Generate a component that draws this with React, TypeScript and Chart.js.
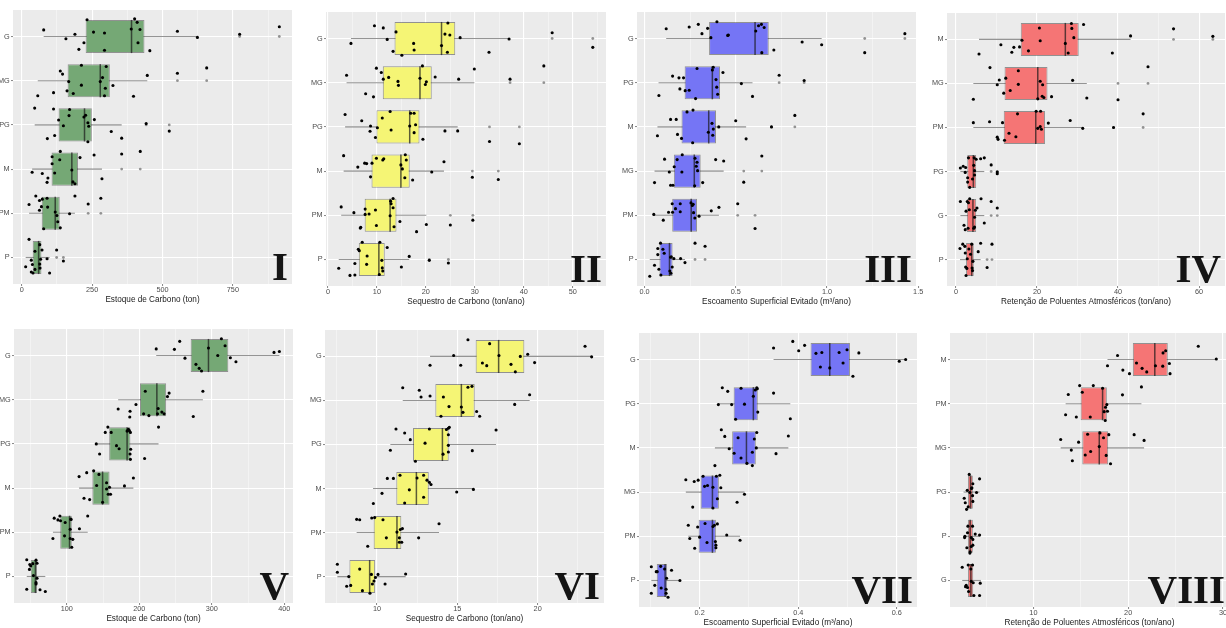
import React, { useEffect, useRef } from 'react';
import { Chart, registerables } from 'chart.js';

Chart.register(...registerables);
Chart.defaults.font.family = "'Liberation Sans', Arial, sans-serif";

// ---------------- DATA ----------------
// Panel I – Estoque de Carbono (ton)
const catsI = ['G', 'MG', 'PG', 'M', 'PM', 'P'];
const q1I = [227, 163, 131, 106, 71, 39];
const medI = [390, 279, 223, 178, 119, 60];
const q3I = [436, 313, 249, 200, 135, 70];
const loI = [78, 57, 46, 37, 26, 14];
const hiI = [624, 446, 355, 285, 189, 99];
const outI = [[774, 915], [553, 657], [442, 524], [355, 421], [236, 281], [124, 148]];
const ptsI = [
  [[78,-.15],[157,.05],[189,-.05],[203,.29],[221,.14],[232,-.38],[255,-.10],[294,-.08],[294,.31],[389,-.17],[401,-.40],[410,-.32],[413,.14],[420,-.16],[455,.32],[553,-.12],[624,.02],[774,-.05],[915,-.22]],
  [[137,-.22],[145,-.15],[167,.02],[212,-.35],[212,.10],[161,.23],[183,.29],[113,.27],[57,.34],[279,.02],[287,-.07],[300,-.32],[297,.17],[294,.34],[324,.11],[397,.35],[446,-.12],[553,-.17],[657,-.29]],
  [[46,-.38],[113,-.36],[170,-.35],[168,-.21],[131,-.11],[148,.02],[91,.31],[117,.24],[221,-.18],[227,-.22],[235,-.05],[238,.03],[235,.38],[258,-.12],[318,.15],[355,.30],[442,-.03],[524,.14]],
  [[137,-.40],[135,-.21],[108,-.28],[108,-.12],[117,.09],[73,.10],[37,.07],[93,.20],[90,.30],[178,.02],[182,.29],[189,.33],[207,-.26],[257,-.32],[285,.22],[355,-.34],[421,-.40]],
  [[50,-.39],[26,-.20],[63,-.29],[73,-.32],[90,-.34],[70,-.15],[63,-.07],[92,-.14],[78,.35],[119,-.03],[125,.05],[128,.19],[137,.33],[170,.01],[189,-.39],[236,-.21],[281,-.34]],
  [[26,-.41],[47,-.14],[64,-.29],[72,-.17],[34,.06],[38,.16],[14,.21],[34,.33],[40,.35],[47,.27],[64,.15],[65,.24],[67,.04],[99,.35],[124,-.17],[148,.08],[90,.03]],
];

// Panel II – Sequestro de Carbono (ton/ano)
const catsII = ['G', 'MG', 'PG', 'M', 'PM', 'P'];
const q1II = [13.6, 11.2, 9.9, 8.9, 7.5, 6.3];
const medII = [23.2, 18.8, 16.7, 14.9, 12.7, 10.4];
const q3II = [26.0, 21.2, 18.7, 16.7, 14.0, 11.6];
const loII = [4.7, 3.8, 3.5, 3.2, 2.7, 2.2];
const hiII = [37.0, 29.9, 26.5, 23.7, 20.1, 16.6];
const outII = [[45.8, 54.1], [37.2, 44.1], [33.0, 39.1], [29.5, 34.8], [25.0, 29.6], [20.7, 24.6]];
const ptsII = [
  [[9.5,-.29],[11.3,-.24],[12.1,.02],[13.9,-.15],[13.3,.29],[15.1,.38],[4.7,.11],[17.5,.11],[17.6,.26],[23.2,.16],[23.9,-.10],[24.5,-.35],[24.9,-.08],[24.4,.31],[27.0,-.02],[37.0,.01],[32.9,.31],[45.8,-.13],[54.1,.20]],
  [[3.8,-.17],[9.9,-.33],[10.9,-.23],[11.3,-.08],[12.4,-.12],[7.7,.25],[9.3,.32],[14.3,-.03],[14.4,.06],[19.3,-.38],[18.8,-.10],[19.9,.04],[20.1,-.02],[21.9,-.13],[26.7,-.08],[29.9,-.31],[37.2,-.08],[44.1,-.38]],
  [[3.5,-.28],[6.9,-.14],[8.7,-.02],[8.6,.10],[9.7,.24],[10.1,.02],[11.1,-.20],[12.7,-.35],[12.9,.07],[16.7,-.02],[16.9,-.31],[17.6,-.31],[17.9,-.05],[17.6,.13],[19.4,.28],[23.9,.09],[26.5,.09],[33.0,.33],[39.1,.38]],
  [[3.2,-.35],[6.1,-.09],[7.5,-.18],[7.9,-.17],[8.7,.13],[9.0,-.18],[9.9,-.29],[11.2,-.25],[11.4,-.28],[14.9,-.14],[15.8,-.37],[16.0,-.25],[15.2,-.05],[15.7,.15],[17.3,.20],[23.7,-.21],[21.2,.02],[29.5,.14],[34.8,.19]],
  [[2.7,-.19],[5.3,-.06],[7.6,-.14],[8.4,-.03],[9.7,-.12],[7.6,-.02],[6.7,.27],[6.6,.29],[9.9,.23],[12.8,-.32],[12.9,-.26],[13.3,-.38],[13.3,-.17],[12.7,.01],[13.5,.26],[14.7,.14],[18.1,.37],[20.1,.21],[25.0,.22],[29.6,.11]],
  [[2.2,.20],[4.5,.36],[5.5,.09],[5.5,.35],[6.2,-.23],[6.4,-.20],[7.0,-.39],[8.0,-.08],[7.9,.11],[10.6,-.39],[10.5,.34],[11.0,.02],[11.1,.19],[11.2,.26],[12.1,-.27],[15.0,.17],[16.6,-.07],[20.7,.02],[24.6,.08]],
];

// Panel III – Escoamento Superficial Evitado (m³/ano)
const catsIII = ['G', 'PG', 'M', 'MG', 'PM', 'P'];
const q1III = [0.354, 0.220, 0.203, 0.161, 0.152, 0.082];
const medIII = [0.606, 0.372, 0.352, 0.273, 0.256, 0.137];
const q3III = [0.681, 0.414, 0.392, 0.308, 0.288, 0.154];
const loIII = [0.119, 0.077, 0.071, 0.055, 0.049, 0.029];
const hiIII = [0.971, 0.592, 0.557, 0.434, 0.408, 0.222];
const outIII = [[1.207, 1.427], [0.738, 0.875], [0.696, 0.824], [0.544, 0.643], [0.511, 0.606], [0.277, 0.332]];
const ptsIII = [
  [[.119,-.22],[.245,-.26],[.295,-.32],[.315,-.11],[.346,-.23],[.364,-.02],[.397,-.38],[.456,-.07],[.460,-.08],[.610,-.17],[.625,-.29],[.641,-.32],[.656,-.25],[.643,.32],[.709,.26],[.864,.08],[.971,.14],[1.207,.32],[1.427,-.11]],
  [[.154,-.15],[.189,-.11],[.214,-.11],[.194,.14],[.223,.18],[.245,.17],[.079,.29],[.280,.36],[.288,-.32],[.372,-.29],[.377,-.35],[.392,-.07],[.396,.10],[.401,.26],[.430,-.23],[.531,.02],[.592,.31],[.738,-.17],[.875,-.05]],
  [[.143,-.17],[.174,-.17],[.233,-.34],[.266,-.38],[.181,.17],[.203,.26],[.071,.20],[.264,.36],[.350,.12],[.370,-.08],[.374,.19],[.377,.05],[.407,0],[.500,-.14],[.557,.27],[.696,0],[.824,-.26]],
  [[.110,-.27],[.179,-.26],[.207,-.37],[.163,-.10],[.136,.02],[.205,.02],[.055,.26],[.143,.32],[.156,.32],[.277,-.29],[.288,-.20],[.284,-.11],[.291,-.01],[.275,.33],[.319,.26],[.390,-.26],[.434,-.23],[.544,.25],[.643,-.34]],
  [[.051,-.02],[.103,.11],[.132,-.07],[.152,-.26],[.170,-.15],[.154,-.07],[.196,-.26],[.196,-.08],[.255,-.28],[.262,-.22],[.267,-.25],[.269,-.06],[.276,.06],[.299,.02],[.366,-.10],[.408,-.18],[.511,-.26],[.606,.30]],
  [[.088,-.37],[.073,-.25],[.101,-.23],[.108,-.14],[.073,-.11],[.055,.13],[.079,.22],[.090,.35],[.029,.38],[.143,-.05],[.147,-.06],[.161,-.02],[.139,.26],[.145,.31],[.198,-.02],[.222,.07],[.277,-.37],[.332,-.30],[.152,.17]],
];

// Panel IV – Retenção de Poluentes Atmosféricos (ton/ano)
const catsIV = ['M', 'MG', 'PM', 'PG', 'G', 'P'];
const q1IV = [16.0, 12.0, 11.8, 2.8, 2.7, 2.5];
const medIV = [27.0, 20.2, 19.7, 4.3, 4.2, 3.9];
const q3IV = [30.3, 22.6, 22.0, 5.0, 5.0, 4.4];
const loIV = [5.7, 4.3, 4.3, 1.1, 1.1, 1.0];
const hiIV = [43.1, 32.3, 31.3, 7.0, 7.0, 6.1];
const outIV = [[53.7, 63.4], [40.0, 47.4], [38.9, 46.2], [8.7, 10.2], [8.7, 10.2], [7.7, 8.9]];
const ptsIV = [
  [[5.7,.33],[11.1,.12],[13.8,.29],[14.3,.18],[15.7,.17],[16.3,.02],[17.9,.26],[20.6,-.26],[20.8,.03],[27.0,.09],[27.7,.31],[28.5,-.36],[28.6,-.25],[29.1,-.04],[31.5,-.34],[43.1,-.08],[38.6,.31],[53.7,-.24],[63.4,-.07]],
  [[8.4,-.36],[10.7,-.08],[10.2,.03],[12.3,-.12],[15.4,-.29],[15.4,.02],[13.4,.16],[11.8,.22],[4.3,.36],[20.2,.35],[20.8,-.05],[21.4,.03],[21.3,.29],[21.7,.32],[23.6,.30],[28.8,-.07],[32.3,.33],[40.0,.37],[47.4,-.38]],
  [[4.3,-.11],[8.3,-.13],[11.5,-.11],[15.2,-.31],[13.1,.13],[14.8,.21],[10.2,.22],[10.4,.27],[12.0,.29],[19.8,-.37],[20.9,-.37],[20.2,.02],[20.8,-.02],[21.1,.04],[22.8,-.10],[28.2,-.16],[31.3,.02],[38.9,0],[46.2,-.31]],
  [[3.1,-.31],[4.5,-.31],[5.0,-.28],[6.1,-.29],[7.0,-.31],[1.1,-.08],[1.8,-.12],[2.4,-.09],[2.3,.02],[2.9,.14],[2.9,.24],[3.4,.36],[4.4,-.14],[4.6,-.02],[4.6,.08],[4.1,.17],[8.7,-.15],[10.2,.05],[10.2,.01]],
  [[1.1,-.32],[2.8,-.32],[3.1,-.29],[3.4,-.38],[3.3,-.13],[2.5,-.10],[5.2,-.17],[4.8,-.12],[6.2,-.38],[8.7,-.32],[10.2,-.17],[4.6,.04],[4.6,.26],[4.4,.29],[3.0,.29],[2.0,.22],[2.3,.32],[7.0,.17]],
  [[1.0,-.25],[1.7,-.35],[2.2,-.30],[3.2,-.24],[3.9,-.35],[2.3,-.15],[3.6,-.12],[5.5,-.18],[6.1,-.37],[8.9,-.35],[4.2,.04],[4.0,.19],[4.1,.25],[2.4,.17],[2.7,.20],[2.5,.36],[7.7,.18],[2.8,-.02]],
];

// Panel V – Estoque de Carbono (ton)
const catsV = ['G', 'MG', 'PG', 'M', 'PM', 'P'];
const q1V = [270.8, 200.9, 158.4, 135.2, 90.9, 50.2];
const medV = [295.4, 224.2, 183.1, 149.3, 103.7, 56.6];
const q3V = [322.8, 237.0, 187.7, 158.9, 106.8, 58.9];
const loV = [223.3, 170.8, 140.6, 116.9, 80.8, 44.7];
const hiV = [393.2, 287.7, 226.5, 191.8, 128.8, 70.3];
const outV = [[], [], [], [], [], []];
const ptsV = [
  [[223.3,-.15],[248.4,-.14],[255.7,-.32],[263.0,.06],[278.1,.20],[282.6,.29],[285.8,.35],[295.4,-.17],[308.2,0],[313.2,-.38],[318.3,-.22],[325.6,.05],[333.3,.14],[385.8,-.07],[393.2,-.09]],
  [[170.8,.21],[186.8,.39],[187.2,.26],[195.4,.11],[205.9,.32],[208.2,-.19],[213.2,.36],[225.1,.32],[226.0,.20],[231.1,.28],[234.2,.32],[238.8,-.07],[241.1,-.15],[287.7,-.19],[274.4,.38]],
  [[140.6,0],[145.2,.23],[153.0,-.26],[156.6,-.38],[161.2,-.26],[168.5,.04],[172.1,.11],[183.1,-.29],[184.9,-.33],[186.3,-.30],[187.7,-.26],[188.1,.12],[187.2,.23],[187.7,.35],[207.3,.33],[226.5,-.38]],
  [[116.9,-.26],[127.4,-.35],[137.0,-.39],[144.3,-.31],[141.1,-.06],[123.7,.23],[131.5,.26],[149.3,.32],[154.8,-.12],[154.8,.02],[158.9,-.02],[157.1,.14],[160.3,.14],[179.5,-.05],[191.8,-.23]],
  [[82.6,-.32],[87.7,-.28],[91.3,-.26],[90.4,-.37],[97.7,-.22],[96.8,.08],[80.8,.14],[105.5,-.30],[105.9,-.29],[104.6,-.07],[104.6,.14],[108.2,.16],[106.8,.34],[117.4,-.08],[128.8,-.37]],
  [[44.7,-.38],[48.9,-.27],[50.2,-.24],[53.0,-.29],[48.4,-.16],[57.5,-.37],[53.9,-.02],[58.9,.04],[57.5,.14],[57.5,.17],[63.0,.30],[44.7,.29],[70.3,.34],[58.9,-.30]],
];

// Panel VI – Sequestro de Carbono (ton/ano)
const catsVI = ['G', 'MG', 'PG', 'M', 'PM', 'P'];
const q1VI = [16.14, 13.63, 12.24, 11.20, 9.79, 8.28];
const medVI = [17.57, 15.25, 14.07, 12.45, 11.24, 9.54];
const q3VI = [19.17, 16.08, 14.46, 13.22, 11.51, 9.88];
const loVI = [13.30, 11.60, 10.83, 9.75, 8.73, 7.53];
const hiVI = [23.36, 19.50, 17.41, 16.00, 13.86, 11.78];
const outVI = [[], [], [], [], [], []];
const ptsVI = [
  [[13.30,.20],[14.77,-.02],[15.21,.20],[15.66,-.38],[16.56,.15],[16.83,.21],[17.01,-.29],[17.59,-.02],[18.34,.18],[18.61,.35],[18.92,0],[19.38,-.05],[19.81,.14],[22.95,-.23],[23.36,.01]],
  [[11.60,-.29],[12.63,-.23],[12.74,-.08],[13.30,-.10],[13.98,.36],[14.13,-.08],[14.48,.14],[15.25,.15],[15.35,.27],[15.66,-.30],[15.91,-.32],[16.20,.25],[16.39,.36],[18.57,.09],[19.50,-.13]],
  [[10.83,.13],[11.18,-.35],[11.72,-.26],[12.07,-.11],[12.39,.38],[12.99,-.03],[13.26,-.35],[14.11,.22],[14.32,-.34],[14.44,-.37],[14.50,-.39],[14.44,-.22],[14.44,.02],[14.44,.17],[15.93,.14],[17.41,-.33]],
  [[9.77,.34],[10.31,.11],[10.64,-.23],[11.02,-.23],[11.43,-.30],[11.72,.33],[12.01,.03],[12.49,-.24],[12.90,-.30],[12.90,.20],[13.11,-.19],[13.26,-.14],[13.36,-.09],[14.96,.08],[16.00,.02]],
  [[8.73,-.30],[8.92,-.29],[9.42,.31],[9.67,-.33],[9.85,-.34],[10.37,-.29],[10.58,.12],[11.24,-.01],[11.39,.12],[11.39,.22],[11.45,-.07],[11.54,.22],[11.58,-.09],[12.59,.12],[13.86,-.20]],
  [[7.53,-.28],[7.53,-.10],[8.11,.22],[8.24,0],[8.36,.20],[8.92,-.17],[9.09,.32],[9.56,.38],[9.65,-.05],[9.71,.17],[9.81,.10],[9.90,.02],[10.06,-.05],[10.50,.17],[11.78,-.06]],
];

// Panel VII – Escoamento Superficial Evitado (m³/ano)
const catsVII = ['G', 'PG', 'M', 'MG', 'PM', 'P'];
const q1VII = [0.425, 0.269, 0.266, 0.202, 0.198, 0.113];
const medVII = [0.464, 0.309, 0.295, 0.226, 0.226, 0.130];
const q3VII = [0.505, 0.318, 0.314, 0.239, 0.233, 0.134];
const loVII = [0.350, 0.238, 0.231, 0.172, 0.177, 0.102];
const hiVII = [0.618, 0.384, 0.380, 0.291, 0.282, 0.160];
const outVII = [[], [], [], [], [], []];
const ptsVII = [
  [[.350,-.26],[.389,-.41],[.401,-.20],[.413,-.32],[.436,-.14],[.448,-.16],[.445,.17],[.464,.19],[.483,-.16],[.491,.08],[.499,-.22],[.523,-.15],[.511,.38],[.605,.04],[.618,0]],
  [[.238,.02],[.246,-.36],[.257,-.28],[.265,.02],[.273,.35],[.284,-.35],[.291,.01],[.309,-.17],[.313,-.31],[.316,-.36],[.317,-.34],[.318,.19],[.350,-.24],[.384,.34]],
  [[.231,.40],[.244,-.41],[.251,-.26],[.260,.02],[.270,.12],[.278,-.23],[.284,.23],[.296,.35],[.307,.40],[.307,.10],[.311,-.20],[.316,-.35],[.315,0],[.355,.13],[.380,-.27]],
  [[.172,-.28],[.189,-.24],[.197,-.27],[.207,-.36],[.210,-.13],[.216,-.15],[.186,.34],[.227,-.11],[.227,.36],[.234,-.36],[.241,-.38],[.243,-.10],[.236,.15],[.276,.23],[.291,.05]],
  [[.177,-.25],[.180,.05],[.190,.27],[.196,-.21],[.200,.02],[.211,-.29],[.215,.14],[.227,-.22],[.230,-.25],[.236,-.28],[.232,.12],[.233,.20],[.233,.26],[.255,-.03],[.282,.09]],
  [[.102,-.31],[.102,.29],[.109,.11],[.112,-.20],[.114,-.20],[.121,-.32],[.122,.17],[.129,-.26],[.133,-.05],[.132,.20],[.132,.29],[.136,.38],[.143,-.23],[.160,0]],
];

// Panel VIII – Retenção de Poluentes Atmosféricos (ton/ano)
const catsVIII = ['M', 'PM', 'MG', 'PG', 'P', 'G'];
const q1VIII = [20.49, 14.98, 15.16, 3.09, 3.09, 3.09];
const medVIII = [22.81, 17.30, 16.95, 3.37, 3.33, 3.40];
const q3VIII = [24.18, 17.75, 17.89, 3.61, 3.61, 3.65];
const loVIII = [17.82, 13.40, 12.88, 2.63, 2.67, 2.49];
const hiVIII = [29.30, 21.40, 21.68, 4.32, 4.39, 4.46];
const outVIII = [[], [], [], [], [], []];
const ptsVIII = [
  [[17.82,.14],[18.88,-.09],[19.44,.24],[20.14,.32],[20.88,.08],[21.47,.20],[21.96,.28],[22.88,.14],[23.65,.15],[23.68,-.15],[23.96,-.20],[24.35,.09],[24.42,.32],[27.40,-.30],[29.30,-.01]],
  [[13.40,.25],[13.68,-.21],[14.53,.30],[14.88,-.41],[15.16,-.26],[16.00,.30],[16.32,-.41],[17.30,-.35],[17.47,.18],[17.61,.08],[17.75,.02],[17.82,.17],[17.58,.38],[19.40,-.20],[21.40,-.38]],
  [[12.88,-.19],[14.00,.05],[14.11,.29],[14.77,-.13],[15.47,.16],[15.72,-.31],[16.04,.08],[16.95,-.03],[17.02,-.34],[17.40,-.23],[17.68,.17],[17.96,-.30],[18.14,.36],[20.63,-.30],[21.68,-.17]],
  [[3.23,-.40],[4.32,-.30],[3.61,-.19],[3.51,-.10],[3.02,-.04],[3.30,.01],[4.00,.01],[2.70,.14],[2.81,.24],[3.12,.33],[2.95,.39],[3.58,.08],[3.61,.21],[3.47,-.08]],
  [[3.09,-.23],[3.58,-.23],[3.05,-.08],[2.77,0],[2.74,.03],[3.44,.03],[3.61,.07],[3.86,-.05],[4.32,-.03],[2.98,.26],[3.33,.35],[3.44,.23],[3.61,.20],[3.30,.38]],
  [[2.49,-.30],[3.12,-.35],[3.58,-.35],[3.40,-.26],[3.44,.02],[3.65,.05],[4.39,.06],[2.84,.14],[2.91,.11],[3.16,.25],[3.72,.34],[4.32,.34],[3.05,.16]],
];

// Axis ticks
const majI = [0, 250, 500, 750]; const labI = ['0', '250', '500', '750']; const minI = [125, 375, 625, 875];
const majII = [0, 10, 20, 30, 40, 50]; const labII = ['0', '10', '20', '30', '40', '50']; const minII = [5, 15, 25, 35, 45, 55];
const majIII = [0, 0.5, 1, 1.5]; const labIII = ['0.0', '0.5', '1.0', '1.5']; const minIII = [0.25, 0.75, 1.25];
const majIV = [0, 20, 40, 60]; const labIV = ['0', '20', '40', '60']; const minIV = [10, 30, 50];
const majV = [100, 200, 300, 400]; const labV = ['100', '200', '300', '400']; const minV = [50, 150, 250, 350];
const majVI = [10, 15, 20]; const labVI = ['10', '15', '20']; const minVI = [7.5, 12.5, 17.5, 22.5];
const majVII = [0.2, 0.4, 0.6]; const labVII = ['0.2', '0.4', '0.6']; const minVII = [0.1, 0.3, 0.5];
const majVIII = [10, 20, 30]; const labVIII = ['10', '20', '30']; const minVIII = [5, 15, 25];

const titleCarbon = 'Estoque de Carbono (ton)';
const titleSeq = 'Sequestro de Carbono (ton/ano)';
const titleRun = 'Escoamento Superficial Evitado (m³/ano)';
const titleRet = 'Retenção de Poluentes Atmosféricos (ton/ano)';

// ---------------- STYLE / LAYOUT ----------------
const GREEN = '#75A875';
const YELLOW = '#F5F575';
const BLUE = '#7575F5';
const RED = '#F57575';
const BOX_HALF = 0.375;
const Y_W = 26;
const X_H = 24;
const PAD_T = 6;
const PAD_R = 14;

const panels = [
  { roman: 'I', cats: catsI, q1: q1I, med: medI, q3: q3I, lo: loI, hi: hiI, out: outI, pts: ptsI, maj: majI, lab: labI, min: minI, xr: [-31, 960], title: titleCarbon, fill: GREEN, rect: [13, 10, 292, 284] },
  { roman: 'II', cats: catsII, q1: q1II, med: medII, q3: q3II, lo: loII, hi: hiII, out: outII, pts: ptsII, maj: majII, lab: labII, min: minII, xr: [-0.4, 56.8], title: titleSeq, fill: YELLOW, rect: [326, 12, 606, 286] },
  { roman: 'III', cats: catsIII, q1: q1III, med: medIII, q3: q3III, lo: loIII, hi: hiIII, out: outIII, pts: ptsIII, maj: majIII, lab: labIII, min: minIII, xr: [-0.041, 1.488], title: titleRun, fill: BLUE, rect: [637, 12, 916, 286] },
  { roman: 'IV', cats: catsIV, q1: q1IV, med: medIV, q3: q3IV, lo: loIV, hi: hiIV, out: outIV, pts: ptsIV, maj: majIV, lab: labIV, min: minIV, xr: [-2.2, 66.4], title: titleRet, fill: RED, rect: [947, 13, 1225, 286] },
  { roman: 'V', cats: catsV, q1: q1V, med: medV, q3: q3V, lo: loV, hi: hiV, out: outV, pts: ptsV, maj: majV, lab: labV, min: minV, xr: [27.1, 412], title: titleCarbon, fill: GREEN, rect: [14, 329, 293, 603] },
  { roman: 'VI', cats: catsVI, q1: q1VI, med: medVI, q3: q3VI, lo: loVI, hi: hiVI, out: outVI, pts: ptsVI, maj: majVI, lab: labVI, min: minVI, xr: [6.76, 24.13], title: titleSeq, fill: YELLOW, rect: [325, 330, 604, 603] },
  { roman: 'VII', cats: catsVII, q1: q1VII, med: medVII, q3: q3VII, lo: loVII, hi: hiVII, out: outVII, pts: ptsVII, maj: majVII, lab: labVII, min: minVII, xr: [0.077, 0.641], title: titleRun, fill: BLUE, rect: [639, 333, 917, 607] },
  { roman: 'VIII', cats: catsVIII, q1: q1VIII, med: medVIII, q3: q3VIII, lo: loVIII, hi: hiVIII, out: outVIII, pts: ptsVIII, maj: majVIII, lab: labVIII, min: minVIII, xr: [1.2, 30.64], title: titleRet, fill: RED, rect: [950, 333, 1229, 607] },
];

const bgPlugin = {
  id: 'panelBg',
  beforeDraw(chart: any) {
    const { ctx, chartArea } = chart;
    if (!chartArea) return;
    ctx.save();
    ctx.fillStyle = '#EBEBEB';
    ctx.fillRect(chartArea.left, chartArea.top, chartArea.right - chartArea.left, chartArea.bottom - chartArea.top);
    ctx.restore();
  },
};

const romanPlugin = {
  id: 'roman',
  afterDraw(chart: any, _args: any, opts: any) {
    const { ctx, chartArea } = chart;
    ctx.save();
    ctx.font = "bold 41px 'Liberation Serif', 'Times New Roman', serif";
    ctx.fillStyle = '#141414';
    ctx.textAlign = 'right';
    ctx.textBaseline = 'alphabetic';
    ctx.fillText(opts.text, chartArea.right - 4, chartArea.bottom - 4);
    ctx.restore();
  },
};

function isMajor(maj: number[], v: number) {
  return maj.some((m) => Math.abs(m - v) < 1e-9);
}

function makeConfig(p: any) {
  const pos = p.cats.map((_: string, i: number) => i + 1);
  const halfPx = (ctx: any) => {
    const y = ctx.chart.scales.y;
    return Math.abs(y.getPixelForValue(1 + BOX_HALF) - y.getPixelForValue(1));
  };
  const datasets: any[] = [];
  datasets.push({
    type: 'scatter', order: 0,
    data: p.pts.flatMap((arr: number[][], i: number) => arr.map(([v, d]) => ({ x: v, y: pos[i] + d }))),
    pointRadius: 1.55, pointBackgroundColor: '#000', pointBorderWidth: 0,
  });
  datasets.push({
    type: 'scatter', order: 1,
    data: p.out.flatMap((arr: number[], i: number) => arr.map((v) => ({ x: v, y: pos[i] }))),
    pointRadius: 1.4, pointBackgroundColor: '#939393', pointBorderWidth: 0,
  });
  datasets.push({
    type: 'scatter', order: 2,
    data: p.med.map((v: number, i: number) => ({ x: v, y: pos[i] })),
    pointStyle: 'line', pointRotation: 90, pointRadius: halfPx,
    pointBorderColor: 'rgba(25,25,25,0.7)', pointBorderWidth: 1.5,
  });
  datasets.push({
    type: 'bar', order: 3, indexAxis: 'y', grouped: false,
    data: p.q1.map((v: number, i: number) => ({ x: [v, p.q3[i]], y: pos[i] })),
    backgroundColor: p.fill, borderColor: 'rgba(35,35,35,0.45)', borderWidth: 1,
    borderSkipped: false, barPercentage: BOX_HALF * 2, categoryPercentage: 1,
  });
  p.lo.forEach((v: number, i: number) => {
    datasets.push({
      type: 'line', order: 4,
      data: [{ x: v, y: pos[i] }, { x: p.hi[i], y: pos[i] }],
      borderColor: 'rgba(60,60,60,0.55)', borderWidth: 1.1, pointRadius: 0, fill: false,
    });
  });
  const tickFont = { family: "'Liberation Sans', Arial, sans-serif", size: 7.3 };
  return {
    type: 'scatter',
    data: { datasets },
    plugins: [bgPlugin, romanPlugin],
    options: {
      responsive: false,
      animation: false,
      events: [],
      layout: { padding: { left: 0, top: PAD_T, right: PAD_R, bottom: 0 } },
      plugins: { legend: { display: false }, tooltip: { enabled: false }, roman: { text: p.roman } },
      scales: {
        x: {
          type: 'linear', position: 'bottom', min: p.xr[0], max: p.xr[1], bounds: 'data', beginAtZero: false, offset: false,
          afterBuildTicks: (s: any) => { s.ticks = [...p.maj, ...p.min].sort((a, b) => a - b).map((v) => ({ value: v })); },
          afterFit: (s: any) => { s.height = X_H; },
          ticks: {
            autoSkip: false, maxRotation: 0, padding: 0, font: tickFont, color: '#4D4D4D',
            callback: (v: number) => { const k = p.maj.findIndex((m: number) => Math.abs(m - v) < 1e-9); return k >= 0 ? p.lab[k] : ''; },
          },
          grid: {
            offset: false,
            color: (c: any) => (c.tick && isMajor(p.maj, c.tick.value) ? '#FFFFFF' : 'rgba(255,255,255,0.75)'),
            lineWidth: (c: any) => (c.tick && isMajor(p.maj, c.tick.value) ? 1.1 : 0.55),
            tickColor: (c: any) => (c.tick && isMajor(p.maj, c.tick.value) ? '#666' : 'rgba(0,0,0,0)'),
            tickLength: 2, tickWidth: 0.8,
          },
          border: { display: false },
          title: { display: true, text: p.title, color: '#1A1A1A', font: { family: "'Liberation Sans', Arial, sans-serif", size: 8.2 }, padding: { top: 0, bottom: 3.6 } },
        },
        y: {
          type: 'linear', position: 'left', reverse: true, min: 0.4, max: p.cats.length + 0.6, bounds: 'data', offset: false, beginAtZero: false,
          afterBuildTicks: (s: any) => { s.ticks = pos.map((v: number) => ({ value: v })); },
          afterFit: (s: any) => { s.width = Y_W; },
          ticks: {
            autoSkip: false, padding: 1.3, font: tickFont, color: '#4D4D4D',
            callback: (v: number) => p.cats[Math.round(v) - 1] ?? '',
          },
          grid: { offset: false, color: '#FFFFFF', lineWidth: 1.1, tickColor: '#666', tickLength: 2, tickWidth: 0.8 },
          border: { display: false },
        },
      },
    },
  };
}

function PanelChart({ p }: { p: any }) {
  const ref = useRef<HTMLCanvasElement>(null);
  const [l, t, r, b] = p.rect;
  const w = r - l + Y_W + PAD_R;
  const h = b - t + PAD_T + X_H;
  useEffect(() => {
    if (!ref.current) return;
    const chart = new Chart(ref.current, makeConfig(p) as any);
    return () => chart.destroy();
  }, [p]);
  return (
    <canvas
      ref={ref}
      width={w}
      height={h}
      style={{ position: 'absolute', left: l - Y_W, top: t - PAD_T, width: w, height: h }}
    />
  );
}

export default function App() {
  return (
    <div style={{ position: 'absolute', left: 0, top: 0, width: 1226, height: 628, overflow: 'hidden', background: '#FFFFFF' }}>
      {panels.map((p) => (
        <PanelChart key={p.roman} p={p} />
      ))}
    </div>
  );
}
